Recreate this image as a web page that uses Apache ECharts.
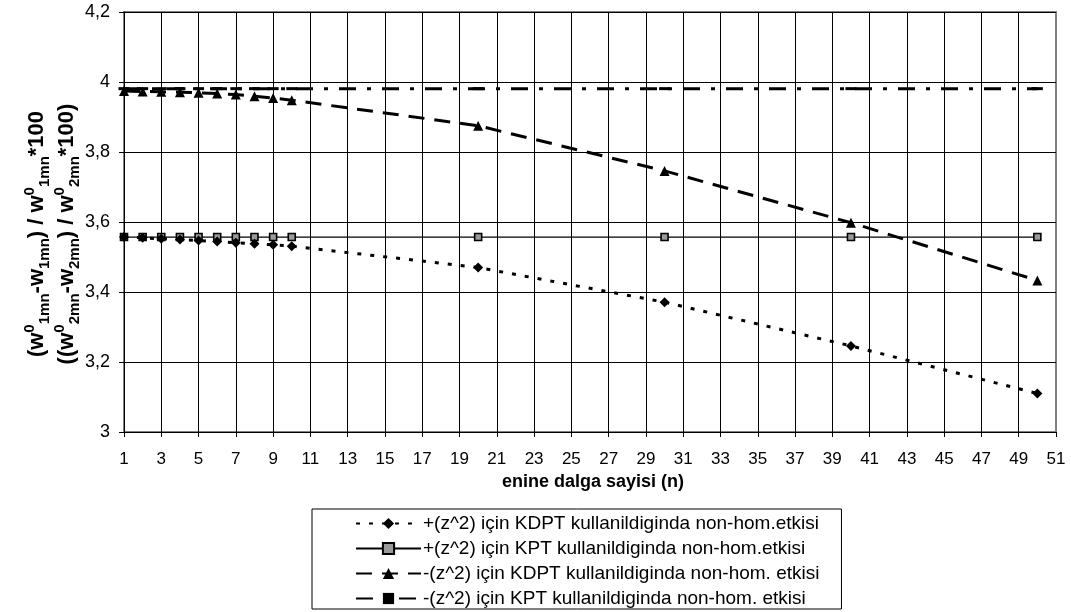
<!DOCTYPE html>
<html>
<head>
<meta charset="utf-8">
<script src="https://cdn.jsdelivr.net/npm/echarts@6/dist/echarts.min.js"></script>
<style>
html,body{margin:0;padding:0;background:#fff;}
#chart{width:1071px;height:612px;}
</style>
</head>
<body>
<div id="chart"></div>
<script>
// ---- data ----
var nValues = [1, 2, 3, 4, 5, 6, 7, 8, 9, 10, 20, 30, 40, 50];
var kdptPlus = [3.557, 3.555, 3.552, 3.550, 3.547, 3.544, 3.541, 3.538, 3.535, 3.531, 3.470, 3.371, 3.246, 3.110];
var kptPlus = [3.557, 3.557, 3.557, 3.557, 3.557, 3.557, 3.557, 3.557, 3.557, 3.557, 3.557, 3.557, 3.557, 3.557];
var kdptMinus = [3.974, 3.973, 3.972, 3.971, 3.969, 3.967, 3.964, 3.959, 3.954, 3.948, 3.875, 3.746, 3.598, 3.433];
var kptMinus = [3.981, 3.981, 3.981, 3.981, 3.981, 3.981, 3.981, 3.981, 3.981, 3.981, 3.981, 3.981, 3.981, 3.981];
var seriesNames = [
  '+(z^2) için KDPT kullanildiginda non-hom.etkisi',
  '+(z^2) için KPT kullanildiginda non-hom.etkisi',
  '-(z^2) için KDPT kullanildiginda non-hom. etkisi',
  '-(z^2) için KPT kullanildiginda non-hom. etkisi'
];
var xTitle = 'enine dalga sayisi (n)';
var yMin = 3, yMax = 4.2, yStep = 0.2;
var xMin = 1, xMax = 51, xStep = 2;

function pairs(vals) {
  return nValues.map(function (n, i) { return [n, vals[i]]; });
}

var FONT = "'Liberation Sans', Arial, sans-serif";
var chart = echarts.init(document.getElementById('chart'));

var option = {
  animation: false,
  backgroundColor: '#fff',
  grid: {
    left: 124, right: 15, top: 12, bottom: 180,
    show: true, borderColor: '#808080', borderWidth: 2, backgroundColor: 'transparent'
  },
  xAxis: {
    type: 'value', min: xMin, max: xMax, interval: xStep,
    axisLine: { show: true, lineStyle: { color: '#000', width: 1 } },
    axisTick: { show: true, length: 5, lineStyle: { color: '#000' } },
    axisLabel: { color: '#000', fontSize: 17, fontFamily: FONT, margin: 19,
      formatter: function (v) { return String(v); } },
    splitLine: { show: true, showMinLine: false, showMaxLine: false, lineStyle: { color: '#000', width: 1 } }
  },
  yAxis: {
    type: 'value', min: yMin, max: yMax, interval: yStep,
    axisLine: { show: true, lineStyle: { color: '#000', width: 1 } },
    axisTick: { show: true, length: 5, lineStyle: { color: '#000' } },
    axisLabel: { color: '#000', fontSize: 18, fontFamily: FONT, margin: 14,
      formatter: function (v) { return (Math.round(v * 10) / 10).toString().replace('.', ','); } },
    splitLine: { show: true, lineStyle: { color: '#000', width: 1 } }
  },
  legend: {
    orient: 'vertical', left: 312, top: 509,
    borderColor: '#000', borderWidth: 1,
    padding: [5, 22, 1, 43],
    itemWidth: 65, itemHeight: 14, itemGap: 6,
    textStyle: { color: '#000', fontSize: 19, fontFamily: FONT, padding: [0, 0, 0, -3] },
    data: seriesNames
  },
  graphic: [
    {
      type: 'text', x: 52, y: 234, rotation: Math.PI / 2,
      style: {
        text: '{a|(w}{p|0}{b|1mn}{a|-w}{b|1mn}{a|) / w}{p|0}{b|1mn}{a|*100}\n' +
              '{a|((w}{p|0}{b|2mn}{a|-w}{b|2mn}{a|) / w}{p|0}{b|2mn}{a|*100)}',
        align: 'center', verticalAlign: 'middle',
        fill: '#000',
        rich: {
          a: { fontSize: 22, fontWeight: 'bold', fontFamily: FONT, lineHeight: 30, verticalAlign: 'middle', fill: '#000', color: '#000' },
          p: { fontSize: 15, fontWeight: 'bold', fontFamily: FONT, lineHeight: 14, verticalAlign: 'top', fill: '#000', color: '#000' },
          b: { fontSize: 15, fontWeight: 'bold', fontFamily: FONT, lineHeight: 14, verticalAlign: 'bottom', fill: '#000', color: '#000' }
        }
      }
    },
    {
      type: 'text', x: 593, y: 482,
      style: { text: xTitle, align: 'center', verticalAlign: 'middle', fill: '#000',
        fontSize: 18, fontWeight: 'bold', fontFamily: FONT }
    }
  ],
  series: [
    {
      name: seriesNames[0], type: 'line', data: pairs(kdptPlus),
      symbol: 'diamond', symbolSize: 10, z: 4,
      itemStyle: { color: '#000' },
      lineStyle: { color: '#000', width: 3, type: [4, 9] }
    },
    {
      name: seriesNames[1], type: 'line', data: pairs(kptPlus),
      symbol: 'rect', symbolSize: 7, z: 3,
      itemStyle: { color: '#9a9a9a', borderColor: '#000', borderWidth: 1.6 },
      lineStyle: { color: '#000', width: 1.2, type: 'solid' }
    },
    {
      name: seriesNames[2], type: 'line', data: pairs(kdptMinus),
      symbol: 'triangle', symbolSize: 10, z: 5,
      itemStyle: { color: '#000' },
      lineStyle: { color: '#000', width: 3, type: [16, 10] }
    },
    {
      name: seriesNames[3], type: 'line', data: pairs(kptMinus),
      symbol: 'rect', symbolSize: [11, 3], z: 4,
      itemStyle: { color: '#000' },
      lineStyle: { color: '#000', width: 3, type: [17, 11, 4, 11] }
    }
  ]
};
chart.setOption(option);
</script>
</body>
</html>
